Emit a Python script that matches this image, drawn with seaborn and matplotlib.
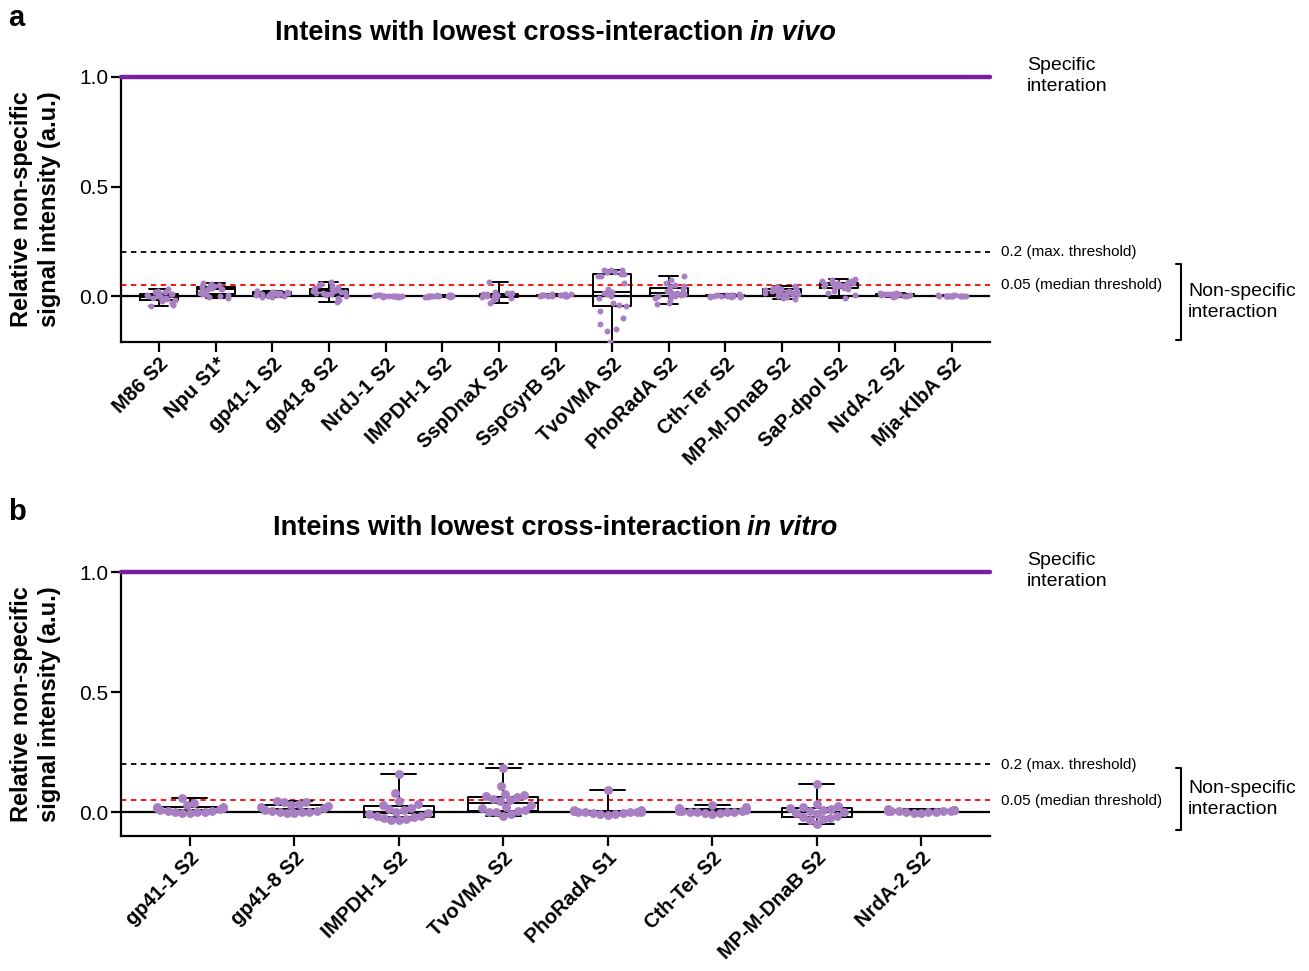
import matplotlib
matplotlib.use("Agg")
import matplotlib.pyplot as plt
from matplotlib.lines import Line2D
import numpy as np
import pandas as pd
import seaborn as sns

sns.set_theme(style="ticks")
plt.rcParams["font.family"] = ["Liberation Sans", "DejaVu Sans"]
plt.rcParams["text.color"] = "black"
plt.rcParams["axes.labelcolor"] = "black"
plt.rcParams["xtick.color"] = "black"
plt.rcParams["ytick.color"] = "black"

W, H = 1309, 971

# ---------------- data: panel a (in vivo) ----------------
cats_a = ["M86 S2", "Npu S1*", "gp41-1 S2", "gp41-8 S2", "NrdJ-1 S2", "IMPDH-1 S2",
          "SspDnaX S2", "SspGyrB S2", "TvoVMA S2", "PhoRadA S2", "Cth-Ter S2",
          "MP-M-DnaB S2", "SaP-dpol S2", "NrdA-2 S2", "Mja-KlbA S2"]
a_m86 = [0.03, 0.025, 0.02, 0.02, 0.015, 0.01, 0.01, 0.005, 0.0, 0.0, -0.005, -0.01,
         -0.01, -0.015, -0.02, -0.02, -0.025, -0.03, -0.035, -0.04, -0.045]
a_npu = [0.06, 0.055, 0.05, 0.045, 0.045, 0.04, 0.04, 0.035, 0.03, 0.03, 0.03, 0.025,
         0.02, 0.02, 0.015, 0.01, 0.01, 0.005, 0.0, -0.005, -0.01]
a_gp411 = [0.025, 0.022, 0.02, 0.02, 0.018, 0.015, 0.015, 0.012, 0.01, 0.01, 0.008,
           0.005, 0.005, 0.003, 0.0, 0.0, -0.003, -0.005]
a_gp418 = [0.065, 0.055, 0.05, 0.045, 0.04, 0.035, 0.03, 0.03, 0.028, 0.025, 0.022,
           0.02, 0.018, 0.015, 0.012, 0.01, 0.01, 0.005, 0.0, -0.01, -0.02, -0.028]
a_nrdj1 = [0.005, 0.004, 0.003, 0.002, 0.002, 0.001, 0.0, 0.0, 0.0, -0.001, -0.002,
           -0.002, -0.003, -0.004, -0.005, 0.001, -0.001]
a_impdh = [0.006, 0.004, 0.003, 0.002, 0.001, 0.001, 0.0, 0.0, -0.001, -0.001, -0.002,
           -0.003, -0.004, -0.005, 0.002, -0.002, 0.0]
a_sspdnax = [0.065, 0.02, 0.015, 0.012, 0.01, 0.01, 0.008, 0.005, 0.005, 0.003, 0.0,
             0.0, -0.002, -0.005, -0.008, -0.01, -0.02, -0.03]
a_sspgyrb = [0.01, 0.008, 0.007, 0.006, 0.005, 0.005, 0.004, 0.003, 0.003, 0.002,
             0.001, 0.0, 0.0, -0.001, -0.002]
a_tvovma = [0.12, 0.12, 0.12, 0.11, 0.11, 0.11, 0.10, 0.10, 0.09, 0.09, 0.06, 0.03,
            0.02, 0.015, 0.01, 0.0, -0.01, -0.03, -0.04, -0.045, -0.07, -0.10, -0.13,
            -0.15, -0.16, -0.21]
a_phoradA = [0.09, 0.075, 0.06, 0.05, 0.045, 0.04, 0.03, 0.025, 0.02, 0.02, 0.015,
             0.012, 0.01, 0.008, 0.005, 0.003, 0.0, 0.0, -0.002, -0.01, -0.02, -0.03,
             -0.035]
a_cthter = [0.008, 0.006, 0.005, 0.004, 0.003, 0.002, 0.002, 0.001, 0.0, 0.0, -0.001,
            -0.002, -0.002, -0.003, -0.004, -0.005]
a_mpm = [0.045, 0.04, 0.038, 0.035, 0.032, 0.03, 0.03, 0.028, 0.025, 0.025, 0.022,
         0.02, 0.02, 0.018, 0.015, 0.012, 0.01, 0.008, 0.005, 0.0, -0.005, -0.01, -0.015]
a_sap = [0.078, 0.075, 0.07, 0.068, 0.065, 0.062, 0.06, 0.058, 0.055, 0.055, 0.052,
         0.05, 0.05, 0.048, 0.045, 0.045, 0.042, 0.04, 0.035, 0.03, 0.025, 0.015,
         0.005, -0.01]
a_nrda2 = [0.015, 0.012, 0.011, 0.01, 0.01, 0.009, 0.008, 0.007, 0.006, 0.005, 0.004,
           0.003, 0.002, 0.0, -0.002, -0.005]
a_mja = [0.004, 0.003, 0.003, 0.002, 0.002, 0.001, 0.001, 0.0, 0.0, 0.0, -0.001,
         -0.001, -0.001, -0.002, 0.001, 0.0]
vals_a = [a_m86, a_npu, a_gp411, a_gp418, a_nrdj1, a_impdh, a_sspdnax, a_sspgyrb,
          a_tvovma, a_phoradA, a_cthter, a_mpm, a_sap, a_nrda2, a_mja]

# ---------------- data: panel b (in vitro) ----------------
cats_b = ["gp41-1 S2", "gp41-8 S2", "IMPDH-1 S2", "TvoVMA S2", "PhoRadA S1",
          "Cth-Ter S2", "MP-M-DnaB S2", "NrdA-2 S2"]
b_gp411 = [0.058, 0.036, 0.028, 0.022, 0.02, 0.018, 0.015, 0.012, 0.008, 0.005,
           0.003, 0.0, 0.0, -0.002, -0.004, -0.005]
b_gp418 = [0.045, 0.042, 0.04, 0.032, 0.028, 0.025, 0.02, 0.015, 0.01, 0.006, 0.003,
           0.0, 0.0, -0.002, -0.005, -0.006]
b_impdh = [0.16, 0.078, 0.046, 0.032, 0.03, 0.015, 0.012, 0.01, 0.0, -0.005, -0.01,
           -0.015, -0.018, -0.022, -0.025, -0.03, -0.033, -0.035]
b_tvovma = [0.185, 0.108, 0.075, 0.07, 0.065, 0.062, 0.055, 0.05, 0.045, 0.03, 0.02,
            0.015, 0.01, 0.005, 0.0, -0.002, -0.01, -0.015]
b_phoradA = [0.092, 0.01, 0.008, 0.006, 0.005, 0.004, 0.003, 0.002, 0.001, 0.0, 0.0,
             -0.002, -0.004, -0.006, -0.008, -0.01, -0.012]
b_cthter = [0.028, 0.02, 0.015, 0.012, 0.01, 0.008, 0.006, 0.005, 0.004, 0.002, 0.0,
            0.0, -0.002, -0.004, -0.006, -0.01]
b_mpm = [0.115, 0.035, 0.025, 0.02, 0.015, 0.012, 0.008, 0.005, 0.0, -0.005, -0.01,
         -0.015, -0.02, -0.025, -0.03, -0.035, -0.05]
b_nrda2 = [0.012, 0.01, 0.01, 0.009, 0.008, 0.007, 0.006, 0.005, 0.004, 0.004, 0.003,
           0.002, 0.0, -0.002, -0.005, -0.006]
vals_b = [b_gp411, b_gp418, b_impdh, b_tvovma, b_phoradA, b_cthter, b_mpm, b_nrda2]

yticks = [0.0, 0.5, 1.0]
ytick_labels = ["0.0", "0.5", "1.0"]


def long_df(cats, vals):
    rows = [(c, v) for c, vs in zip(cats, vals) for v in vs]
    return pd.DataFrame(rows, columns=["intein", "signal"])


df_a = long_df(cats_a, vals_a)
df_b = long_df(cats_b, vals_b)

PURPLE_LINE = "#7B1FA2"
PURPLE_PT = "#A97FC4"

fig = plt.figure(figsize=(W / 100, H / 100), dpi=100)


def px_axes(left, top, right, bottom):
    return fig.add_axes([left / W, 1 - bottom / H, (right - left) / W, (bottom - top) / H])


axA = px_axes(121, 77, 990, 342)
axB = px_axes(121, 572, 990, 836)

swarm_colls = []


def draw_panel(ax, df, cats, ylim, pad, swarm, ptsize):
    sns.boxplot(data=df, x="intein", y="signal", order=cats, ax=ax, whis=(0, 100),
                width=0.67, fill=False, color="black", linewidth=1.4,
                showfliers=False, zorder=2)
    if swarm:
        n_before = len(ax.collections)
        sns.swarmplot(data=df, x="intein", y="signal", order=cats, ax=ax,
                      color=PURPLE_PT, size=ptsize, linewidth=0, zorder=3,
                      warn_thresh=1.0)
        swarm_colls.extend(ax.collections[n_before:])
    else:
        sns.stripplot(data=df, x="intein", y="signal", order=cats, ax=ax,
                      color=PURPLE_PT, size=ptsize, linewidth=0, zorder=3,
                      jitter=0.3)
    ax.axhline(1.0, color=PURPLE_LINE, lw=3.2, zorder=4, clip_on=False)
    ax.axhline(0.0, color="black", lw=1.6, zorder=1)
    ax.axhline(0.2, color="black", lw=1.3, ls=(0, (3, 2.5)), zorder=1)
    ax.axhline(0.05, color="red", lw=1.3, ls=(0, (3, 2.5)), zorder=1)
    ax.set_ylim(*ylim)
    ax.set_xlim(-pad, len(cats) - 1 + pad)
    ax.set_yticks(yticks)
    ax.set_yticklabels(ytick_labels)
    ax.set_xlabel("")
    ax.set_ylabel("Relative non-specific\nsignal intensity (a.u.)", fontsize=17,
                  fontweight="bold", labelpad=13, linespacing=1.3)
    sns.despine(ax=ax)
    for s in ("left", "bottom"):
        ax.spines[s].set_linewidth(1.6)
        ax.spines[s].set_color("black")
    ax.tick_params(axis="y", labelsize=15, length=7, width=1.6, color="black", pad=2)
    ax.tick_params(axis="x", length=7, width=1.6, color="black", pad=2)
    ax.set_xticks(range(len(cats)))
    ax.set_xticklabels(cats, rotation=45, ha="right", rotation_mode="anchor",
                       fontsize=14.5, fontweight="bold")


draw_panel(axA, df_a, cats_a, (-0.21, 1.0), 0.67, False, 4.3)
draw_panel(axB, df_b, cats_b, (-0.10, 1.0), 0.66, True, 6.4)

# seaborn lays out the swarm at draw time; draw once, then freeze those
# positions with a slightly narrower spread so the dots sit within the boxes
fig.canvas.draw()
for coll in swarm_colls:
    offs = np.asarray(coll.get_offsets(), dtype=float)
    if len(offs) == 0:
        continue
    if "draw" in coll.__dict__:
        del coll.draw
    centre = np.round(offs[:, 0])
    offs[:, 0] = centre + (offs[:, 0] - centre) * 0.8
    coll.set_offsets(offs)

renderer = fig.canvas.get_renderer()


def fx(x):
    return x / W


def fy(y):
    return 1 - y / H


def title(y_px, word):
    t1 = fig.text(0, fy(y_px), "Inteins with lowest cross-interaction", fontsize=19.5,
                  fontweight="bold", va="center", ha="left")
    t2 = fig.text(0, fy(y_px), word, fontsize=19.5, fontweight="bold",
                  fontstyle="italic", va="center", ha="left")
    w1 = t1.get_window_extent(renderer).width
    w2 = t2.get_window_extent(renderer).width
    gap = 6
    x0 = 555.5 - (w1 + gap + w2) / 2
    t1.set_x(fx(x0))
    t2.set_x(fx(x0 + w1 + gap))


title(33, "in vivo")
title(528, "in vitro")

fig.text(fx(8), fy(18), "a", fontsize=21, fontweight="bold", va="center", ha="left")
fig.text(fx(8), fy(512), "b", fontsize=21, fontweight="bold", va="center", ha="left")


def right_notes(y_spec, y02, y005, br_top, br_bot):
    fig.text(fx(1027), fy(y_spec), "Specific\ninteration", fontsize=14, va="center",
             ha="left", linespacing=1.3)
    fig.text(fx(1001), fy(y02), "0.2 (max. threshold)", fontsize=11, va="center", ha="left")
    fig.text(fx(1001), fy(y005), "0.05 (median threshold)", fontsize=11, va="center",
             ha="left")
    xb = 1181
    fig.add_artist(Line2D([fx(xb - 5), fx(xb), fx(xb), fx(xb - 5)],
                          [fy(br_top), fy(br_top), fy(br_bot), fy(br_bot)],
                          color="black", lw=1.5))
    fig.text(fx(1188), fy((br_top + br_bot) / 2), "Non-specific\ninteraction",
             fontsize=14, va="center", ha="left", linespacing=1.3)


right_notes(76, 252, 285, 264, 340)
right_notes(571, 765, 801, 768, 830)

fig.savefig("out.png", dpi=100)
